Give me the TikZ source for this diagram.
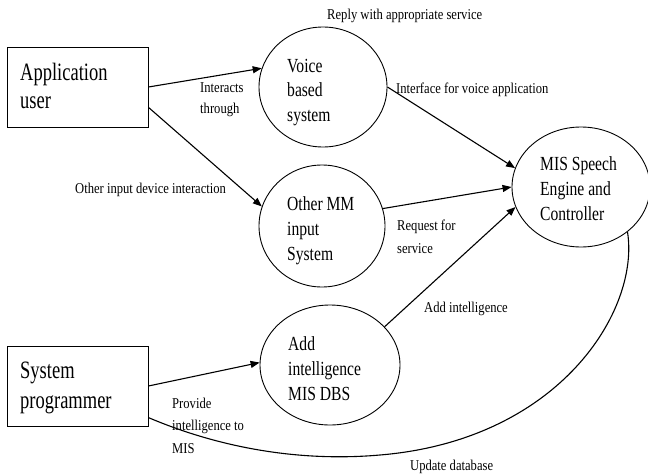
\documentclass[tikz,border=0pt]{standalone}
\usepackage{fontspec}
\usepackage{graphicx}
\setmainfont{Liberation Serif}
\usetikzlibrary{shapes.geometric,arrows.meta}
\newcommand\ml[2]{\vtop{\baselineskip=#1\lineskiplimit=-30pt\lineskip=0pt\halign{##\hfil\cr#2\crcr}}}
\newcommand\sq[2]{\scalebox{#1}[1]{#2}}
\begin{document}
\begin{tikzpicture}[x=1pt,y=-1pt,
  actor/.style={draw, rectangle, line width=0.9pt, minimum width=141pt, minimum height=80pt, inner sep=0pt},
  proc/.style={draw, ellipse, line width=0.9pt, inner sep=0pt},
  flow/.style={line width=1.1pt, -{Triangle[length=9pt,width=7pt]}},
  plain/.style={line width=1.1pt},
  bigtxt/.style={anchor=base west, inner sep=0pt, font=\fontsize{25pt}{29pt}\selectfont},
  midtxt/.style={anchor=base west, inner sep=0pt, font=\fontsize{20pt}{24pt}\selectfont},
  lbl/.style={anchor=base west, inner sep=0pt, font=\fontsize{15pt}{22pt}\selectfont}]
\useasboundingbox (0,0) rectangle (648,474);
% boxes and processes
\node[actor] (user) at (77.5,87) {};
\node[actor] (prog) at (77.5,386) {};
\node[proc, minimum width=128pt, minimum height=120pt] (voice) at (323,87) {};
\node[proc, minimum width=126pt, minimum height=122pt] (other) at (322,226) {};
\node[proc, minimum width=140pt, minimum height=120pt] (addi) at (330,365) {};
\node[proc, minimum width=138pt, minimum height=120pt] (mis) at (581,187) {};
% texts inside
\node[bigtxt] (tuser) at (20,80) {\sq{0.74}{\ml{28pt}{Application\cr user}}};
\node[bigtxt] (tprog) at (20,378) {\sq{0.74}{\ml{30pt}{System\cr programmer}}};
\node[midtxt] (tvoice) at (287,72) {\sq{0.78}{\ml{24.5pt}{Voice\cr based\cr system}}};
\node[midtxt] (tother) at (287,210) {\sq{0.78}{\ml{25pt}{Other MM\cr input\cr System}}};
\node[midtxt] (taddi) at (288,350) {\sq{0.78}{\ml{25pt}{Add\cr intelligence\cr MIS DBS}}};
\node[midtxt] (tmis) at (540,170) {\sq{0.78}{\ml{25pt}{MIS Speech\cr Engine and\cr Controller}}};
% connectors
\draw[flow] (user.east) -- (voice.163);
\draw[flow] (user.-16) -- (other.162);
\draw[flow] (voice.east) -- (mis.164);
\draw[flow] (other.16) -- (mis.west);
\draw[flow] (addi.35) -- (mis.197);
\draw[flow] (prog.east) -- (addi.178);
\draw[plain] (prog.-24) .. controls (220,448) and (300,462) .. (380,455)
  .. controls (560,440) and (640,310) .. (mis.-44);
% labels
\node[lbl] (l1) at (327,19) {\sq{0.84}{Reply with appropriate service}};
\node[lbl] (l2) at (200,92) {\sq{0.84}{\ml{21pt}{Interacts\cr through}}};
\node[lbl] (l3) at (75,193) {\sq{0.84}{Other input device interaction}};
\node[lbl] (l4) at (396,93) {\sq{0.84}{Interface for voice application}};
\node[lbl] (l5) at (397,230) {\sq{0.84}{\ml{23pt}{Request for\cr service}}};
\node[lbl] (l6) at (424,312) {\sq{0.84}{Add intelligence}};
\node[lbl] (l7) at (172,408) {\sq{0.84}{\ml{22.5pt}{Provide\cr intelligence to\cr MIS}}};
\node[lbl] (l8) at (410,470) {\sq{0.84}{Update database}};
\end{tikzpicture}
\end{document}
